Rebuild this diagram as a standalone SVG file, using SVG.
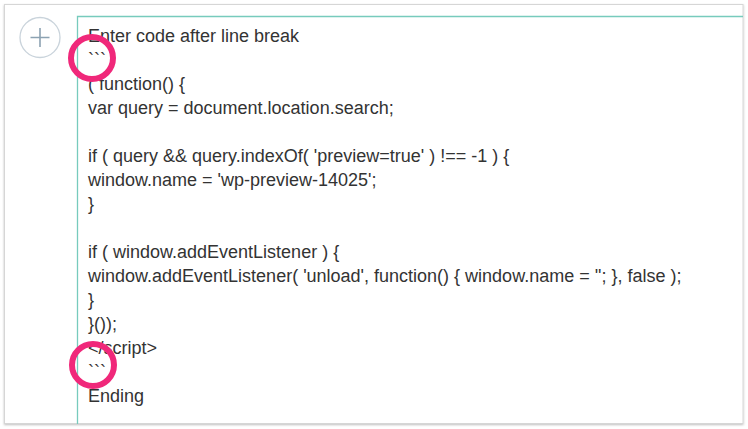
<svg xmlns="http://www.w3.org/2000/svg" width="748" height="429" viewBox="0 0 748 429">
  <defs>
    <style>
      .code { font-family: "Liberation Sans", Arial, sans-serif; font-size: 18px; fill: #333333; }
      .mark { fill: none; stroke: #f0287a; stroke-width: 6; }
    </style>
    <filter id="sh" x="-5%" y="-5%" width="110%" height="110%">
      <feDropShadow dx="0" dy="1" stdDeviation="1.2" flood-color="#000" flood-opacity="0.25"/>
    </filter>
  </defs>
  <rect x="0" y="0" width="748" height="429" fill="#ffffff"/>
  <g id="card">
    <rect x="4.5" y="4.5" width="738.5" height="419" fill="#ffffff" stroke="#d6d6d6" stroke-width="1" filter="url(#sh)"/>
  </g>
  <g id="add-button">
    <circle cx="40" cy="37.5" r="20" fill="#ffffff" stroke="#c9d3db" stroke-width="1.3"/>
    <path d="M30.5 37.5 H49.5 M40 28 V47" stroke="#8ca2b2" stroke-width="1.6" fill="none"/>
  </g>
  <g id="editor">
    <path d="M743 16.5 H77.5 V424" fill="none" stroke="#77cbbd" stroke-width="1.3"/>
    <g class="code">
      <text x="88" y="42">Enter code after line break</text>
      <text x="88" y="66">```</text>
      <text x="88" y="90">( function() {</text>
      <text x="88" y="114">var query = document.location.search;</text>
      <text x="88" y="162">if ( query &amp;&amp; query.indexOf( 'preview=true' ) !== -1 ) {</text>
      <text x="88" y="186">window.name = 'wp-preview-14025';</text>
      <text x="88" y="210">}</text>
      <text x="88" y="258">if ( window.addEventListener ) {</text>
      <text x="88" y="282">window.addEventListener( 'unload', function() { window.name = ''; }, false );</text>
      <text x="88" y="306">}</text>
      <text x="88" y="330">}());</text>
      <text x="88" y="354">&lt;/script&gt;</text>
      <text x="88" y="378">```</text>
      <text x="88" y="402">Ending</text>
    </g>
  </g>
  <g id="highlights">
    <circle class="mark" cx="92" cy="58" r="21"/>
    <circle class="mark" cx="93" cy="365" r="21"/>
  </g>
</svg>
